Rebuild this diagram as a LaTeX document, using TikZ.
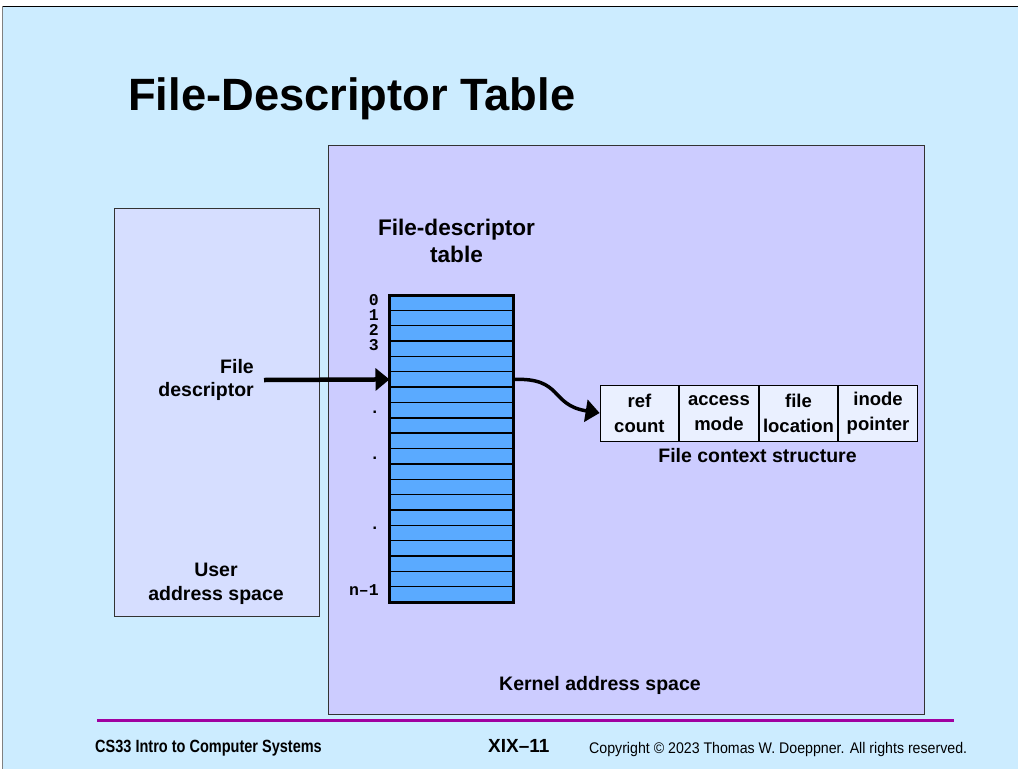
\documentclass[tikz,border=0pt]{standalone}
\usepackage{fontspec}
\setmainfont{Liberation Sans}
\newfontfamily\narrowfont[FakeStretch=0.82]{Liberation Sans}
\newfontfamily\copyfont[FakeStretch=0.92]{Liberation Sans}
\newfontfamily\indexfont{Liberation Mono}
\usetikzlibrary{arrows.meta,positioning}

\definecolor{slideblue}{RGB}{204,236,255}
\definecolor{kernelfill}{RGB}{204,204,255}
\definecolor{userfill}{RGB}{214,222,255}
\definecolor{rowblue}{RGB}{90,170,255}
\definecolor{cellfill}{RGB}{234,240,255}
\definecolor{rulepurple}{RGB}{160,0,160}

\tikzset{
  fdrow/.style = {draw, line width=1.4pt, fill=rowblue, minimum width=124pt,
    minimum height=15.35pt, inner sep=0pt, outer sep=0pt},
  ctxcell/.style = {draw, line width=0.8pt, fill=cellfill, minimum width=78.75pt,
    minimum height=56pt, inner sep=0pt, align=center,
    font=\bfseries\fontsize{18.5}{25}\selectfont},
  idx/.style = {anchor=east, inner sep=0pt, text height=10pt, text depth=0pt,
    font=\indexfont\bfseries\fontsize{16.5}{16.5}\selectfont},
  lbl/.style = {align=center, font=\bfseries\fontsize{19.5}{23.5}\selectfont},
  bigarrow/.style = {-{Triangle[length=14pt,width=22pt]}},
}

\begin{document}
\begin{tikzpicture}[x=1pt, y=-1pt]

\useasboundingbox (0,0) rectangle (1018,769);
\fill [white] (0,0) rectangle (1018,769);
\fill [slideblue] (2,6) rectangle (1018,769);
\draw [line width=1pt] (2,6) -- (1018,6);
\draw [gray, line width=1pt] (2,6) -- (2,769);

\node [anchor=base west, inner sep=0pt, font=\bfseries\fontsize{45.3}{50}\selectfont] (title) at (128,110) {File-Descriptor Table};

% address spaces
\draw [fill=kernelfill, draw=black!80, line width=0.8pt] (328,145) rectangle (924,714);
\draw [fill=userfill, draw=black!80, line width=0.8pt] (114,208) rectangle (319,616);
\node [lbl, anchor=base] (userlbl) at (216,600) {User\\address space};
\node [lbl, anchor=base] (kernellbl) at (600,690) {Kernel address space};

% the table
\node [anchor=base, align=center, font=\bfseries\fontsize{22.6}{27}\selectfont] (fdtlbl) at (456.5,262) {File-descriptor\\table};
\foreach \i in {0,...,19}
  \node [fdrow, anchor=north] (row\i) at (451.5,{295+15.35*\i}) {};
\draw [line width=3pt] (row0.north west) rectangle (row19.south east);

\foreach \i in {0,...,3}
  \node [idx] (idx\i) at (379,{300+15*\i}) {\i};
\foreach \y [count=\k] in {408,454,524}
  \node [idx] (dot\k) at (380,\y) {.};
\node [idx] (idxlast) at (379,590) {n–1};

\node [lbl, align=right, anchor=east, inner xsep=10pt] (fdlabel) at (264,380) {File\\descriptor};
\draw [line width=4.5pt, bigarrow] (fdlabel.east) -- (row5.west);

% file context structure
\node [ctxcell] (refcnt) at (639.4,413) {ref\\count};
\node [ctxcell, right=0pt of refcnt] (accmode) {access\\mode};
\node [ctxcell, right=0pt of accmode] (fileloc) {file\\location};
\node [ctxcell, right=0pt of fileloc] (inodeptr) {inode\\pointer};
\node [anchor=base, font=\bfseries\fontsize{19.5}{23}\selectfont] (ctxlbl) at (757.5,462) {File context structure};

\draw [line width=3.5pt, bigarrow] (row5.east) .. controls +(50,-2) and +(-50,-8) .. (refcnt.west);

% footer
\draw [rulepurple, line width=3pt] (97,720) -- (954,720);
\node [anchor=base west, inner sep=0pt, font=\narrowfont\bfseries\fontsize{17.7}{20}\selectfont] (course) at (95,752) {CS33 Intro to Computer Systems};
\node [anchor=base west, inner sep=0pt, font=\bfseries\fontsize{19}{20}\selectfont] (slideno) at (488,752) {XIX–11};
\node [anchor=base west, inner sep=0pt, font=\copyfont\fontsize{15.4}{18}\selectfont] (copyright) at (589,753) {Copyright © 2023 Thomas W. Doeppner. All rights reserved.};

\end{tikzpicture}
\end{document}
